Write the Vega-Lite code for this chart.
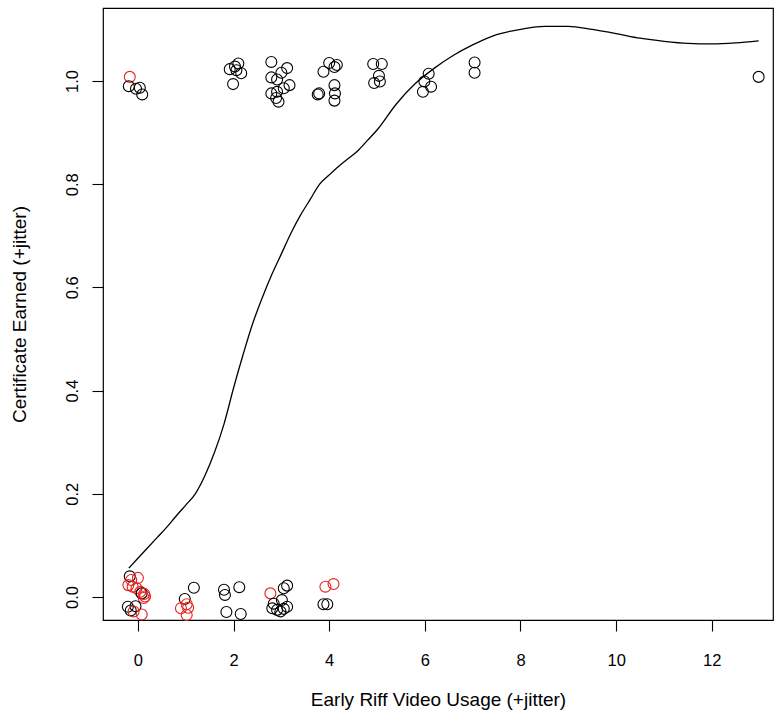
{
  "$schema": "https://vega.github.io/schema/vega-lite/v6.json",
  "width": 670,
  "height": 612,
  "autosize": {"type": "none"},
  "padding": {"left": 103, "top": 8, "right": 2, "bottom": 97},
  "background": "white",
  "config": {
    "view": {"stroke": "black", "strokeWidth": 1.2},
    "font": "Liberation Sans",
    "axis": {"grid": false, "domain": false, "tickColor": "black", "tickSize": 11, "tickWidth": 1.1, "labelColor": "black", "titleColor": "black", "labelFont": "Liberation Sans", "titleFont": "Liberation Sans", "labelFontSize": 16.5, "titleFontSize": 19, "titleFontWeight": "normal"}
  },
  "datasets": {
    "pts": [
      {"usage": -0.17, "cert": 1.008, "grp": "B"},
      {"usage": -0.19, "cert": 0.990, "grp": "A"},
      {"usage": -0.04, "cert": 0.985, "grp": "A"},
      {"usage": 0.04, "cert": 0.987, "grp": "A"},
      {"usage": 0.09, "cert": 0.974, "grp": "A"},
      {"usage": 1.92, "cert": 1.023, "grp": "A"},
      {"usage": 2.03, "cert": 1.028, "grp": "A"},
      {"usage": 2.10, "cert": 1.034, "grp": "A"},
      {"usage": 2.06, "cert": 1.021, "grp": "A"},
      {"usage": 2.16, "cert": 1.015, "grp": "A"},
      {"usage": 1.99, "cert": 0.994, "grp": "A"},
      {"usage": 2.79, "cert": 1.037, "grp": "A"},
      {"usage": 3.12, "cert": 1.025, "grp": "A"},
      {"usage": 3.00, "cert": 1.016, "grp": "A"},
      {"usage": 2.79, "cert": 1.007, "grp": "A"},
      {"usage": 2.91, "cert": 1.003, "grp": "A"},
      {"usage": 3.17, "cert": 0.992, "grp": "A"},
      {"usage": 3.05, "cert": 0.986, "grp": "A"},
      {"usage": 2.79, "cert": 0.976, "grp": "A"},
      {"usage": 2.91, "cert": 0.979, "grp": "A"},
      {"usage": 2.89, "cert": 0.967, "grp": "A"},
      {"usage": 2.94, "cert": 0.960, "grp": "A"},
      {"usage": 4.00, "cert": 1.035, "grp": "A"},
      {"usage": 4.16, "cert": 1.031, "grp": "A"},
      {"usage": 4.11, "cert": 1.027, "grp": "A"},
      {"usage": 3.88, "cert": 1.018, "grp": "A"},
      {"usage": 4.11, "cert": 0.992, "grp": "A"},
      {"usage": 3.79, "cert": 0.976, "grp": "A"},
      {"usage": 3.76, "cert": 0.974, "grp": "A"},
      {"usage": 4.12, "cert": 0.976, "grp": "A"},
      {"usage": 4.11, "cert": 0.962, "grp": "A"},
      {"usage": 4.92, "cert": 1.033, "grp": "A"},
      {"usage": 5.10, "cert": 1.033, "grp": "A"},
      {"usage": 5.04, "cert": 1.010, "grp": "A"},
      {"usage": 4.94, "cert": 0.996, "grp": "A"},
      {"usage": 5.06, "cert": 0.999, "grp": "A"},
      {"usage": 6.08, "cert": 1.014, "grp": "A"},
      {"usage": 5.99, "cert": 0.999, "grp": "A"},
      {"usage": 6.13, "cert": 0.989, "grp": "A"},
      {"usage": 5.96, "cert": 0.979, "grp": "A"},
      {"usage": 7.04, "cert": 1.036, "grp": "A"},
      {"usage": 7.04, "cert": 1.016, "grp": "A"},
      {"usage": 12.98, "cert": 1.008, "grp": "A"},
      {"usage": -0.17, "cert": 0.040, "grp": "A"},
      {"usage": -0.14, "cert": 0.033, "grp": "B"},
      {"usage": 0.00, "cert": 0.037, "grp": "B"},
      {"usage": -0.20, "cert": 0.023, "grp": "B"},
      {"usage": -0.11, "cert": 0.020, "grp": "B"},
      {"usage": -0.03, "cert": 0.017, "grp": "B"},
      {"usage": 0.05, "cert": 0.010, "grp": "B"},
      {"usage": 0.08, "cert": 0.007, "grp": "A"},
      {"usage": 0.13, "cert": 0.006, "grp": "B"},
      {"usage": 0.15, "cert": 0.001, "grp": "B"},
      {"usage": 0.12, "cert": -0.002, "grp": "B"},
      {"usage": -0.21, "cert": -0.019, "grp": "A"},
      {"usage": -0.05, "cert": -0.018, "grp": "A"},
      {"usage": -0.15, "cert": -0.026, "grp": "A"},
      {"usage": -0.09, "cert": -0.028, "grp": "B"},
      {"usage": 0.08, "cert": -0.034, "grp": "B"},
      {"usage": 1.17, "cert": 0.018, "grp": "A"},
      {"usage": 0.98, "cert": -0.004, "grp": "A"},
      {"usage": 1.02, "cert": -0.014, "grp": "B"},
      {"usage": 0.90, "cert": -0.022, "grp": "B"},
      {"usage": 1.05, "cert": -0.021, "grp": "B"},
      {"usage": 1.02, "cert": -0.035, "grp": "B"},
      {"usage": 1.80, "cert": 0.014, "grp": "A"},
      {"usage": 1.82, "cert": 0.004, "grp": "A"},
      {"usage": 2.12, "cert": 0.019, "grp": "A"},
      {"usage": 1.85, "cert": -0.029, "grp": "A"},
      {"usage": 2.15, "cert": -0.033, "grp": "A"},
      {"usage": 2.77, "cert": 0.007, "grp": "B"},
      {"usage": 3.05, "cert": 0.017, "grp": "A"},
      {"usage": 3.12, "cert": 0.022, "grp": "A"},
      {"usage": 2.84, "cert": -0.013, "grp": "A"},
      {"usage": 3.01, "cert": -0.006, "grp": "A"},
      {"usage": 2.81, "cert": -0.022, "grp": "A"},
      {"usage": 2.91, "cert": -0.025, "grp": "A"},
      {"usage": 2.98, "cert": -0.028, "grp": "A"},
      {"usage": 3.12, "cert": -0.019, "grp": "A"},
      {"usage": 3.05, "cert": -0.023, "grp": "A"},
      {"usage": 3.92, "cert": 0.020, "grp": "B"},
      {"usage": 4.09, "cert": 0.025, "grp": "B"},
      {"usage": 3.88, "cert": -0.014, "grp": "A"},
      {"usage": 3.96, "cert": -0.014, "grp": "A"}
    ],
    "fit": [
      {"usage": -0.19, "cert": 0.056},
      {"usage": 0.0, "cert": 0.075},
      {"usage": 0.2, "cert": 0.095},
      {"usage": 0.4, "cert": 0.115},
      {"usage": 0.6, "cert": 0.135},
      {"usage": 0.8, "cert": 0.157},
      {"usage": 1.0, "cert": 0.178},
      {"usage": 1.2, "cert": 0.2},
      {"usage": 1.4, "cert": 0.235},
      {"usage": 1.6, "cert": 0.28},
      {"usage": 1.8, "cert": 0.335},
      {"usage": 2.0, "cert": 0.405},
      {"usage": 2.2, "cert": 0.47},
      {"usage": 2.4, "cert": 0.53},
      {"usage": 2.6, "cert": 0.58},
      {"usage": 2.8, "cert": 0.625},
      {"usage": 3.0, "cert": 0.665},
      {"usage": 3.2, "cert": 0.705},
      {"usage": 3.4, "cert": 0.74},
      {"usage": 3.6, "cert": 0.77},
      {"usage": 3.8, "cert": 0.8},
      {"usage": 4.0, "cert": 0.818},
      {"usage": 4.2, "cert": 0.835},
      {"usage": 4.4, "cert": 0.85},
      {"usage": 4.6, "cert": 0.865},
      {"usage": 4.8, "cert": 0.885},
      {"usage": 5.0, "cert": 0.905},
      {"usage": 5.4, "cert": 0.955},
      {"usage": 5.8, "cert": 0.995},
      {"usage": 6.2, "cert": 1.025},
      {"usage": 6.6, "cert": 1.05},
      {"usage": 7.0, "cert": 1.07},
      {"usage": 7.5, "cert": 1.09},
      {"usage": 8.0, "cert": 1.1},
      {"usage": 8.5, "cert": 1.106},
      {"usage": 9.0, "cert": 1.106},
      {"usage": 9.5, "cert": 1.1},
      {"usage": 10.0, "cert": 1.092},
      {"usage": 10.5, "cert": 1.083},
      {"usage": 11.0, "cert": 1.077},
      {"usage": 11.5, "cert": 1.073},
      {"usage": 12.0, "cert": 1.072},
      {"usage": 12.5, "cert": 1.074},
      {"usage": 12.98, "cert": 1.078}
    ]
  },
  "layer": [
    {
      "data": {"name": "pts"},
      "mark": {"type": "point", "shape": "circle", "filled": false, "size": 120, "strokeWidth": 1.1, "opacity": 1},
      "encoding": {
        "x": {"field": "usage", "type": "quantitative", "scale": {"domain": [-0.73, 13.28], "nice": false, "zero": false},
          "axis": {"values": [0, 2, 4, 6, 8, 10, 12], "title": "Early Riff Video Usage (+jitter)", "labelPadding": 21, "titlePadding": 22}},
        "y": {"field": "cert", "type": "quantitative", "scale": {"domain": [-0.0446, 1.1415], "nice": false, "zero": false},
          "axis": {"values": [0, 0.2, 0.4, 0.6, 0.8, 1.0], "format": ".1f", "title": "Certificate Earned (+jitter)", "labelAngle": -90, "labelAlign": "center", "labelBaseline": "bottom", "labelPadding": 12, "titlePadding": 35}},
        "color": {"field": "grp", "type": "nominal", "scale": {"domain": ["A", "B"], "range": ["#000000", "#e8201c"]}, "legend": null}
      }
    },
    {
      "data": {"name": "fit"},
      "mark": {"type": "line", "color": "black", "strokeWidth": 1.3, "interpolate": "monotone"},
      "encoding": {
        "x": {"field": "usage", "type": "quantitative"},
        "y": {"field": "cert", "type": "quantitative"}
      }
    }
  ]
}
